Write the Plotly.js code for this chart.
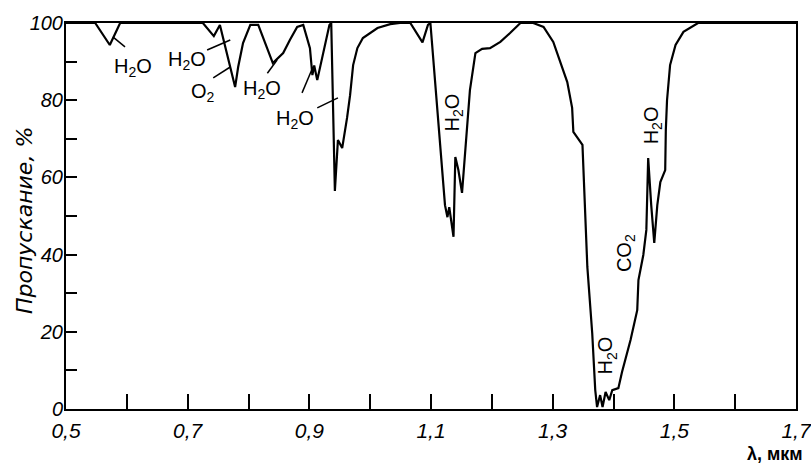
<!DOCTYPE html>
<html>
<head>
<meta charset="utf-8">
<script src="https://cdn.plot.ly/plotly-3.0.1.min.js"></script>
<style>
html,body{margin:0;padding:0;background:#fff;}
#chart{width:811px;height:464px;}
</style>
</head>
<body>
<div id="chart"></div>
<script>
// Wavelength, µm
const wavelength = [0.50, 0.548, 0.572, 0.589, 0.725, 0.743, 0.753, 0.778, 0.783, 0.791, 0.803, 0.816, 0.840, 0.857, 0.868, 0.880, 0.890,
  0.901, 0.905, 0.908, 0.913, 0.918, 0.926, 0.933, 0.936, 0.942, 0.947, 0.954, 0.962, 0.967, 0.972, 0.979, 0.988, 1.012, 1.033, 1.049,
  1.066, 1.086, 1.095, 1.099, 1.123, 1.127, 1.130, 1.137, 1.140, 1.145, 1.151, 1.158, 1.164, 1.173, 1.184, 1.197, 1.214, 1.230, 1.247,
  1.268, 1.285, 1.301, 1.317, 1.324, 1.332, 1.334, 1.349, 1.357, 1.365, 1.370, 1.373, 1.378, 1.382, 1.387, 1.393, 1.398, 1.408, 1.414,
  1.428, 1.439, 1.441, 1.449, 1.454, 1.457, 1.462, 1.467, 1.472, 1.477, 1.485, 1.486, 1.488, 1.493, 1.502, 1.515, 1.539, 1.70];
// Transmission, %
const transmission = [100, 100, 94.3, 100, 100, 96.6, 99.5, 83.4, 88.6, 94.8, 99.5, 99.5, 89.6, 92.2, 95.6, 99, 99.5,
  93.5, 86.5, 89, 85.2, 89, 95, 99.5, 100, 56.5, 69.7, 67.6, 75.4, 81.3, 89.1, 93.5, 96.1, 98.7, 99.7, 100,
  100, 95, 99.5, 100, 52.8, 49.7, 52.3, 44.6, 65.3, 61.9, 56, 69.7, 82.6, 92.2, 93.3, 93.5, 95.1, 97.4, 100,
  100, 99, 95.1, 87.8, 84.7, 78, 71.8, 68.4, 36.8, 19.7, 4.9, 0.5, 3.6, 0.5, 4.4, 2.3, 4.9, 5.4, 9.6,
  17.9, 25.6, 33.4, 39.9, 46.4, 65, 52.8, 43, 52.8, 58.8, 61.9, 72.3, 80, 89.1, 94.3, 97.7, 100, 100];

const xTickVals = [0.5, 0.6, 0.7, 0.8, 0.9, 1.0, 1.1, 1.2, 1.3, 1.4, 1.5, 1.6, 1.7];
const xTickText = ['0,5', ' ', '0,7', ' ', '0,9', ' ', '1,1', ' ', '1,3', ' ', '1,5', ' ', '1,7'];
const yTickVals = [0, 10, 20, 30, 40, 50, 60, 70, 80, 90, 100];
const yTickText = ['0', ' ', '20', ' ', '40', ' ', '60', ' ', '80', ' ', '100'];

// Band labels
const bandText = ['H<sub>2</sub>O', 'H<sub>2</sub>O', 'O<sub>2</sub>', 'H<sub>2</sub>O', 'H<sub>2</sub>O', 'H<sub>2</sub>O', 'H<sub>2</sub>O', 'CO<sub>2</sub>', 'H<sub>2</sub>O'];
const bandX = [0.610, 0.699, 0.725, 0.822, 0.877, 1.137, 1.464, 1.419, 1.390];
const bandY = [88.6, 90.4, 81.9, 82.9, 75.1, 76.7, 73.6, 40.4, 14];
const bandAngle = [0, 0, 0, 0, 0, -90, -90, -90, -90];

// Leader lines: x0, y0, x1, y1
const leaderX0 = [0.577, 0.732, 0.742, 0.831, 0.888, 0.913];
const leaderY0 = [96.4, 93.0, 85.8, 87.0, 81.9, 78.0];
const leaderX1 = [0.597, 0.770, 0.770, 0.847, 0.906, 0.947];
const leaderY1 = [93.8, 95.6, 88.6, 90.4, 88.6, 80.6];

const FONT = 'Liberation Sans, Arial, sans-serif';

const annotations = bandText.map((t, i) => ({
  text: t, x: bandX[i], y: bandY[i], xref: 'x', yref: 'y', showarrow: false,
  xanchor: 'center', yanchor: 'middle',
  textangle: bandAngle[i], font: {family: FONT, size: 20, color: '#000'}
}));
annotations.push({
  text: 'Пропускание, %', xref: 'paper', yref: 'paper', x: -0.0575, y: 0.487,
  xanchor: 'center', yanchor: 'middle',
  showarrow: false, textangle: -90, font: {family: 'DejaVu Sans, sans-serif', size: 22, color: '#000', style: 'italic'}
});
annotations.push({
  text: 'λ, мкм', xref: 'paper', yref: 'paper', x: 1.012, y: -0.116, xanchor: 'right', yanchor: 'middle',
  showarrow: false, font: {family: FONT, size: 18, color: '#000', weight: 'bold'}
});

const shapes = leaderX0.map((x0, i) => ({
  type: 'line', xref: 'x', yref: 'y', x0: x0, y0: leaderY0[i], x1: leaderX1[i], y1: leaderY1[i],
  line: {color: '#000', width: 1.5}
}));

const trace = {
  x: wavelength, y: transmission, type: 'scatter', mode: 'lines',
  line: {color: '#000', width: 2.2}, hoverinfo: 'skip'
};

const layout = {
  width: 811, height: 464,
  margin: {l: 66, r: 15, t: 23, b: 55},
  paper_bgcolor: '#fff', plot_bgcolor: '#fff',
  showlegend: false,
  xaxis: {
    range: [0.5, 1.7], tickmode: 'array', tickvals: xTickVals, ticktext: xTickText,
    ticks: 'inside', ticklen: 15, tickwidth: 2, tickcolor: '#000',
    showline: true, linecolor: '#000', linewidth: 2, mirror: true,
    showgrid: false, zeroline: false, ticklabeloverflow: 'allow', ticklabelstandoff: 2,
    tickfont: {family: FONT, size: 21, color: '#000', style: 'italic'}
  },
  yaxis: {
    range: [0, 100], tickmode: 'array', tickvals: yTickVals, ticktext: yTickText,
    ticks: 'inside', ticklen: 11, tickwidth: 2, tickcolor: '#000',
    showline: true, linecolor: '#000', linewidth: 2, mirror: true,
    showgrid: false, zeroline: false, ticklabelstandoff: -3,
    tickfont: {family: FONT, size: 20, color: '#000', style: 'italic'}
  },
  annotations: annotations,
  shapes: shapes
};

Plotly.newPlot('chart', [trace], layout, {displayModeBar: false, staticPlot: true});
</script>
</body>
</html>
